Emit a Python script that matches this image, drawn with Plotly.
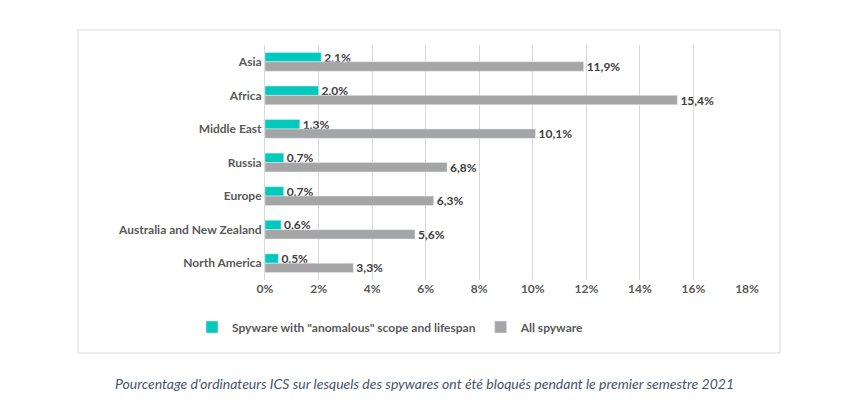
import plotly.graph_objects as go

regions = ["Asia", "Africa", "Middle East", "Russia", "Europe",
           "Australia and New Zealand", "North America"]
anomalous = [2.1, 2.0, 1.3, 0.7, 0.7, 0.6, 0.5]
all_spyware = [11.9, 15.4, 10.1, 6.8, 6.3, 5.6, 3.3]
tick_vals = [0, 2, 4, 6, 8, 10, 12, 14, 16, 18]
tick_text = [f"<b>{v}%</b>" for v in tick_vals]


def fr(v):
    return "<b>" + f"{v:.1f}%".replace(".", ",") + "</b>"


lbl_font = dict(family="Lato", size=12, color="#404040")

fig = go.Figure()
fig.add_trace(go.Bar(
    y=regions, x=anomalous, orientation="h",
    name='<b>Spyware with "anomalous" scope and lifespan</b>',
    marker_color="#00C9BD",
    text=[fr(v) for v in anomalous], textposition="outside",
    constraintext="none",
    textfont=lbl_font, cliponaxis=False))
fig.add_trace(go.Bar(
    y=regions, x=all_spyware, orientation="h",
    name="<b>All spyware</b>",
    marker_color="#A5A5A5",
    text=[fr(v) for v in all_spyware], textposition="outside",
    constraintext="none",
    textfont=lbl_font, cliponaxis=False))

# the page renders about 7px right / 8px down, so compensate
W, H = 855, 404
DX, DY = 7, 8
L, R, T, B = 264 - DX, 109 + DX, 45 - DY, 124 + DY
pw, ph = W - L - R, H - T - B


def px(x):
    return (x - DX - L) / pw


def py(y):
    return (H - B - (y - DY)) / ph


fig.update_layout(
    width=W, height=H,
    margin=dict(l=L, r=R, t=T, b=B),
    paper_bgcolor="white", plot_bgcolor="white",
    barmode="group", bargap=0.44, bargroupgap=0,
    uniformtext=dict(minsize=12, mode="show"),
    font=dict(family="Lato", size=12, color="#595959"),
    showlegend=True,
    legend=dict(orientation="h", x=px(390), xanchor="center",
                y=py(327), yanchor="middle",
                font=dict(family="Lato", size=12, color="#595959"),
                itemwidth=30, traceorder="normal"),
    xaxis=dict(range=[0, 18], tickvals=tick_vals, ticktext=tick_text,
               showgrid=True, gridcolor="#D9D9D9", zeroline=False,
               showline=False, ticks="",
               tickfont=dict(family="Lato", size=12, color="#595959")),
    yaxis=dict(categoryorder="array", categoryarray=regions,
               tickvals=regions, ticktext=[f"<b>{r}</b>" for r in regions],
               autorange="reversed", showgrid=False, ticks="",
               showline=True, linecolor="#D9D9D9",
               tickfont=dict(family="Lato", size=12, color="#595959")),
    shapes=[dict(type="rect", xref="paper", yref="paper",
                 x0=px(77), x1=px(779), y0=py(353), y1=py(30),
                 line=dict(color="#D9D9D9", width=1))],
    annotations=[dict(
        text="<i>Pourcentage d'ordinateurs ICS sur lesquels des spywares ont été bloqués pendant le premier semestre 2021</i>",
        xref="paper", yref="paper", x=px(423), y=py(383),
        xanchor="center", yanchor="middle", showarrow=False,
        font=dict(family="Lato", size=14, color="#44546A"))],
)

fig.write_html("out.html")
